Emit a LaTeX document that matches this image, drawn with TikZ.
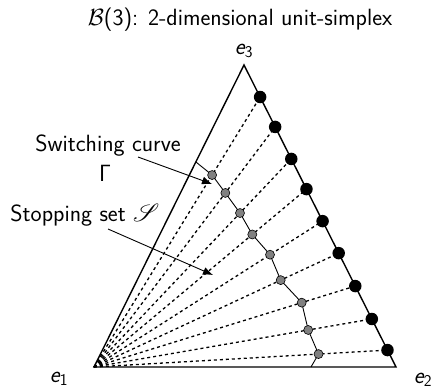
\RequirePackage{fix-cm}
\documentclass[tikz,border=0pt]{standalone}
\usepackage{amsmath}
\usepackage{mathrsfs}
\usetikzlibrary{calc,arrows.meta}
\newcommand{\evec}[1]{{\itshape e}\textsubscript{#1}}
\begin{document}
\begin{tikzpicture}[x=1pt,y=-1pt,
  lbl/.style={font=\fontsize{23.5}{28}\selectfont\sffamily, inner sep=0pt},
  edge/.style={line width=1.4pt},
  dsh/.style={line width=1.3pt, dash pattern=on 3pt off 3pt},
  blackdot/.style={circle, fill=black, minimum size=12.5pt, inner sep=0pt},
  graydot/.style={circle, draw=black, fill=gray, line width=0.6pt, minimum size=9pt, inner sep=0pt},
  curve/.style={line width=0.9pt},
  pointer/.style={line width=0.9pt, -{Latex[length=10pt,width=8pt]}}]
\useasboundingbox (0,0) rectangle (433,390);
\coordinate (e1) at (94,367);
\coordinate (e2) at (396,367);
\coordinate (e3) at (244,65);
% black dots on edge e3-e2
\foreach \i/\t in {1/0.106,2/0.205,3/0.311,4/0.411,5/0.517,6/0.623,7/0.732,8/0.841,9/0.944}
  \coordinate (b\i) at ($(e3)!\t!(e2)$);
% gray dot positions on dashed lines
\foreach \i/\t in {1/0.711,2/0.725,3/0.740,4/0.745,5/0.770,6/0.763,7/0.795,8/0.771,9/0.765}
  \coordinate (g\i) at ($(e1)!\t!(b\i)$);
% dashed lines
\foreach \i in {1,...,9}
  \draw[dsh] (e1) -- (b\i);
% triangle
\draw[edge, line join=miter] (e1) -- (e2) -- (e3) -- cycle;
% switching curve
\coordinate (gtop) at ($(e1)!0.679!(e3)$);
\coordinate (gbot) at ($(e1)!0.7185!(e2)$);
\draw[curve] (gtop) -- (g1) -- (g2) -- (g3) -- (g4) -- (g5) -- (g6) -- (g7) -- (g8) -- (g9) -- (gbot);
% dots
\foreach \i in {1,...,9} {
  \node[blackdot] (B\i) at (b\i) {};
  \node[graydot] (G\i) at (g\i) {};
}
% labels
\node[lbl] (title) at (240,20) {$\mathcal{B}$(3): 2-dimensional unit-simplex};
\node[lbl] (l3) at (244,51) {\evec{3}};
\node[lbl] (l1) at (59,379) {\evec{1}};
\node[lbl] (l2) at (423,380) {\evec{2}};
\node[lbl] (sw) at (108,146) {Switching curve};
\node[lbl] (gam) at (105,173) {$\mathsf{\Gamma}$};
\node[lbl] (st) at (85,215) {Stopping set $\mathscr{S}$};
\coordinate (swtip) at (212,184);
\coordinate (sttip) at (213,275);
\coordinate (swstart) at (138,157);
\coordinate (ststart) at (108,229);
\draw[pointer] (swstart) -- (swtip);
\draw[pointer] (ststart) -- (sttip);
\end{tikzpicture}
\end{document}
